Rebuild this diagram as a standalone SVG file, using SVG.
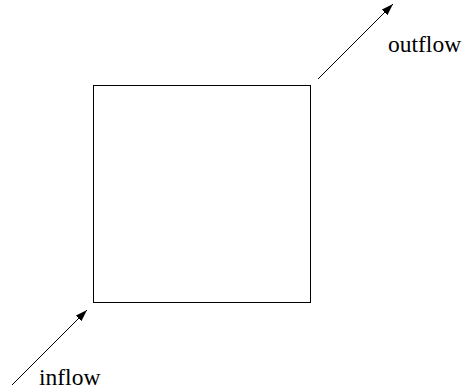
<svg xmlns="http://www.w3.org/2000/svg" width="464" height="392" viewBox="0 0 464 392">
<style>
.ln{stroke:#000;stroke-width:1;fill:none}
.t{font-family:"Liberation Serif","Times New Roman",serif;font-size:23.5px;fill:#000}
</style>
<defs>
<marker id="ah" markerWidth="12" markerHeight="8" refX="12" refY="4" orient="auto" markerUnits="userSpaceOnUse">
<path d="M0,0 L12,4 L0,8 Z" fill="#000"/>
</marker>
</defs>
<rect width="464" height="392" fill="#fff"/>
<g id="box"><rect class="ln" x="93.5" y="85.5" width="217" height="217"/></g>
<g id="inflow-label"><text class="t" x="39" y="385">inflow</text></g>
<g id="outflow-label"><text class="t" x="388" y="52">outflow</text></g>
<g id="connectors">
<line class="ln" x1="12" y1="385" x2="87" y2="310" marker-end="url(#ah)"/>
<line class="ln" x1="318" y1="79" x2="393" y2="4" marker-end="url(#ah)"/>
</g>
</svg>
